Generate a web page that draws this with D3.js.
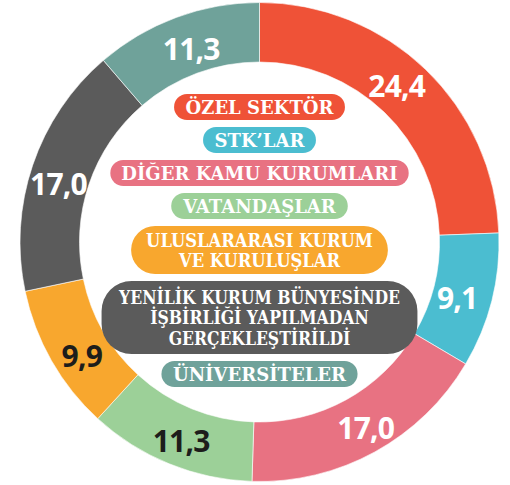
<!DOCTYPE html>
<html>
<head>
<meta charset="utf-8">
<script src="https://cdn.jsdelivr.net/npm/d3@7"></script>
<style>
  html, body { margin: 0; padding: 0; background: #ffffff; }
  svg { display: block; }
</style>
</head>
<body>
<svg id="chart" width="510" height="485"></svg>
<script>
// ---- data ----
const categories = [
  "ÖZEL SEKTÖR",
  "STK’LAR",
  "DİĞER KAMU KURUMLARI",
  "VATANDAŞLAR",
  "ULUSLARARASI KURUM|VE KURULUŞLAR",
  "YENİLİK KURUM BÜNYESİNDE|İŞBİRLİĞİ YAPILMADAN|GERÇEKLEŞTİRİLDİ",
  "ÜNİVERSİTELER"
];
const values = [24.4, 9.1, 17.0, 11.3, 9.9, 17.0, 11.3];
const valueLabels = ["24,4", "9,1", "17,0", "11,3", "9,9", "17,0", "11,3"];
const colors = ["#EF5237", "#4BBDD0", "#E87282", "#9CD098", "#F8A72E", "#5B5B5B", "#6FA29A"];
const labelColors = ["#ffffff", "#ffffff", "#ffffff", "#1d1d1b", "#1d1d1b", "#ffffff", "#ffffff"];

// ---- layout ----
const cx = 259.5, cy = 242;
const rOuter = 239.5, rInner = 180;
// small label nudges (style) relative to the arc centroid
const labelNudge = [[-7, -10], [-4, 1], [6, 0], [0, 3], [3, 7], [-4, 5], [4, -1]];

const svg = d3.select("#chart");
const g = svg.append("g").attr("transform", `translate(${cx},${cy})`);

const data = categories.map((c, i) => ({ cat: c, value: values[i], label: valueLabels[i], color: colors[i], lc: labelColors[i], i }));

const pie = d3.pie().value(d => d.value).sort(null).startAngle(0).endAngle(2 * Math.PI);
const arc = d3.arc().innerRadius(rInner).outerRadius(rOuter);
const labelArc = d3.arc().innerRadius(208).outerRadius(208);

const arcs = pie(data);

g.selectAll("path.slice")
  .data(arcs)
  .join("path")
  .attr("class", "slice")
  .attr("d", arc)
  .attr("fill", d => d.data.color)
  .attr("stroke", "#ffffff")
  .attr("stroke-width", 0.6);

// ---- legend pills in the centre ----
const pillHeights = [26, 48, 73];
const pillRadius = [13, 24, 30];
const condense = [1, 1, 1, 1, 0.91, 0.87, 1];
const padXs = [11, 11, 11, 11, 15, 17, 11];
const lineH = 20.5;
const gap = 7;
const fontSize = 18;
let yTop = 94;

const legend = svg.append("g");
data.forEach((d, i) => {
  const lines = d.cat.split("|");
  const n = lines.length;
  const h = pillHeights[n - 1];
  const grp = legend.append("g");
  const rect = grp.append("rect").attr("fill", d.color);
  const txt = grp.append("text")
    .attr("text-anchor", "middle")
    .attr("font-family", "'DejaVu Serif', serif")
    .attr("font-weight", 700)
    .attr("font-size", fontSize)
    .attr("fill", "#ffffff")
    .attr("transform", `translate(${cx},0) scale(${condense[i]},1) translate(${-cx},0)`);
  const yMid = yTop + h / 2 + 0.5;
  lines.forEach((ln, j) => {
    txt.append("tspan")
      .attr("x", cx)
      .attr("y", yMid + (j - (n - 1) / 2) * lineH)
      .attr("dominant-baseline", "central")
      .text(ln);
  });
  const bb = txt.node().getBBox();
  const w = bb.width * condense[i] + 2 * padXs[i];
  rect.attr("x", cx - w / 2)
    .attr("y", yTop)
    .attr("width", w)
    .attr("height", h)
    .attr("rx", pillRadius[n - 1])
    .attr("ry", pillRadius[n - 1]);
  yTop += h + gap;
});

// ---- value labels ----
g.selectAll("text.val")
  .data(arcs)
  .join("text")
  .attr("class", "val")
  .attr("transform", d => {
    const [x, y] = labelArc.centroid(d);
    const [nx, ny] = labelNudge[d.data.i];
    return `translate(${x + nx},${y + 3 + ny})`;
  })
  .attr("text-anchor", "middle")
  .attr("dominant-baseline", "central")
  .attr("font-family", "'Open Sans', 'Noto Sans', sans-serif")
  .attr("font-weight", 700)
  .attr("font-size", 30)
  .attr("letter-spacing", -0.8)
  .attr("fill", d => d.data.lc)
  .text(d => d.data.label);
</script>
</body>
</html>
